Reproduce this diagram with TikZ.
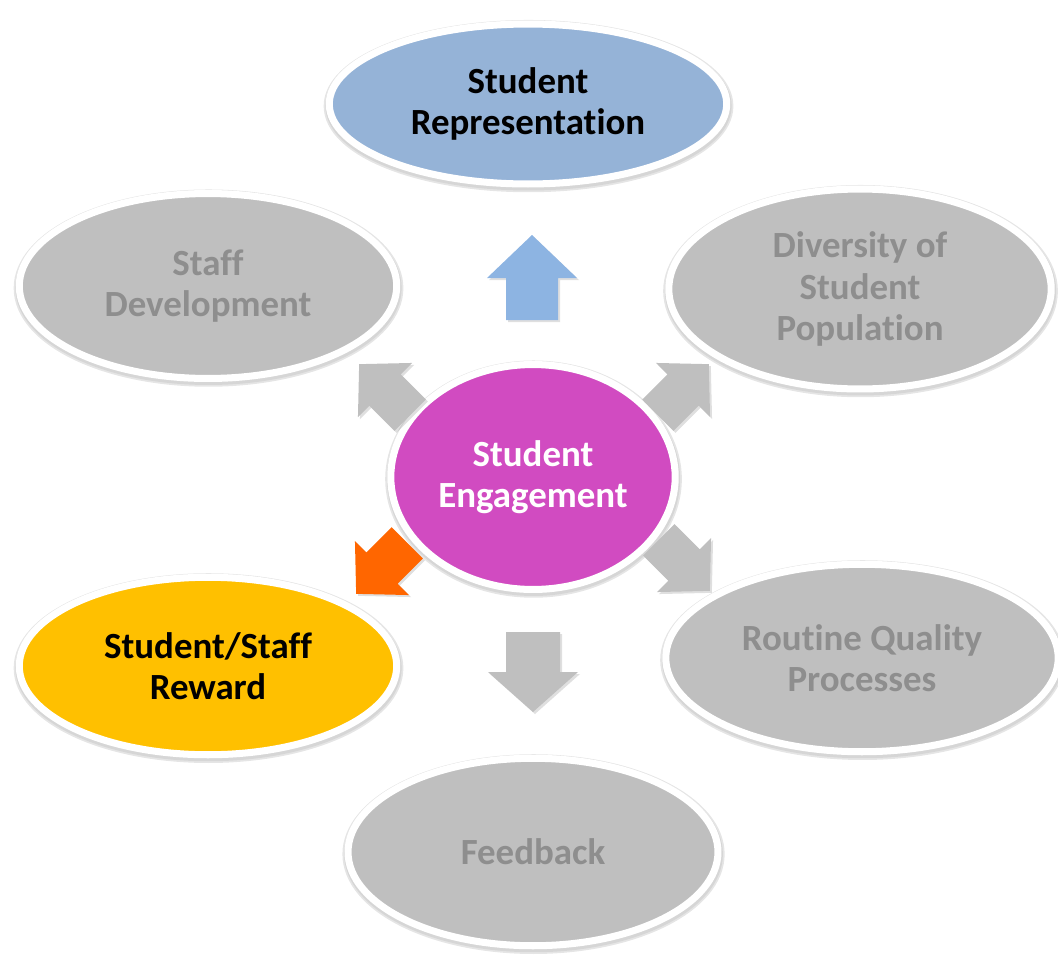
\documentclass[tikz,border=0pt]{standalone}
\usepackage{fontspec}
\setmainfont{Carlito}[Ligatures={NoCommon}]
\usetikzlibrary{shapes.geometric,shadows}
\definecolor{repblue}{HTML}{95B3D7}
\definecolor{arrblue}{HTML}{8DB4E2}
\definecolor{engpink}{HTML}{D14BC1}
\definecolor{boxgray}{HTML}{BFBFBF}
\definecolor{txtgray}{HTML}{8E8E8E}
\definecolor{rewyellow}{HTML}{FFC000}
\definecolor{arrorange}{HTML}{FF6600}
\begin{document}
\begin{tikzpicture}[x=0.02cm, y=0.02cm,
  bubble/.style={ellipse, draw=white, line width=4pt, align=center,
    font=\fontsize{21}{23.5}\selectfont\bfseries,
    preaction={draw=black!10, line width=7pt, transform canvas={xshift=0.3pt, yshift=-1.2pt}},
    preaction={draw=black!16, line width=5pt, transform canvas={xshift=0.3pt, yshift=-1.2pt}}},
  graybubble/.style={bubble, fill=boxgray, text=txtgray},
  barrow/.style={drop shadow={opacity=0.25, shadow xshift=0.04cm, shadow yshift=-0.04cm}}]
  \useasboundingbox (0,0) rectangle (1058,-960);
  % outer ring
  \node[bubble, fill=repblue, text=black, minimum width=7.95cm, minimum height=3.2cm] (rep) at (528,-104) {Student\\Representation};
  \node[graybubble, minimum width=7.55cm, minimum height=3.7cm] (staff) at (208,-286) {Staff\\Development};
  \node[graybubble, minimum width=7.65cm, minimum height=4.0cm] (div) at (860,-289) {Diversity of\\Student\\Population};
  \node[bubble, fill=rewyellow, text=black, minimum width=7.55cm, minimum height=3.55cm] (reward) at (208,-666) {Student/Staff\\Reward};
  \node[graybubble, minimum width=7.85cm, minimum height=3.75cm] (rqp) at (862,-658) {Routine Quality\\Processes};
  \node[graybubble, minimum width=7.4cm, minimum height=3.75cm] (fb) at (533,-852) {Feedback};
  % centre
  \node[bubble, fill=engpink, text=white, minimum width=5.5cm, minimum height=4.5cm] (eng) at (533,-477) {Student\\Engagement};
  % block arrows
  \begin{scope}[shift={(532,-278)}, rotate=90]
    \fill[arrblue, barrow] (-42,-26) -- (0,-26) -- (0,-45) -- (43,0) -- (0,45) -- (0,26) -- (-42,26) -- cycle;
  \end{scope}
  \begin{scope}[shift={(533,-672)}, rotate=-90]
    \fill[boxgray, barrow] (-40,-27) -- (0,-27) -- (0,-45) -- (40,0) -- (0,45) -- (0,27) -- (-40,27) -- cycle;
  \end{scope}
  \begin{scope}[shift={(385,-390)}, rotate=135, scale=0.85]
    \fill[boxgray, barrow] (-42,-26) -- (0,-26) -- (0,-45) -- (43,0) -- (0,45) -- (0,26) -- (-42,26) -- cycle;
  \end{scope}
  \begin{scope}[shift={(683,-390)}, rotate=45, scale=0.85]
    \fill[boxgray, barrow] (-42,-26) -- (0,-26) -- (0,-45) -- (43,0) -- (0,45) -- (0,26) -- (-42,26) -- cycle;
  \end{scope}
  \begin{scope}[shift={(684,-565)}, rotate=-45, scale=0.85]
    \fill[boxgray, barrow] (-42,-26) -- (0,-26) -- (0,-45) -- (43,0) -- (0,45) -- (0,26) -- (-42,26) -- cycle;
  \end{scope}
  \begin{scope}[shift={(382,-568)}, rotate=-135, scale=0.85]
    \fill[arrorange, barrow] (-42,-26) -- (0,-26) -- (0,-45) -- (43,0) -- (0,45) -- (0,26) -- (-42,26) -- cycle;
  \end{scope}
\end{tikzpicture}
\end{document}
